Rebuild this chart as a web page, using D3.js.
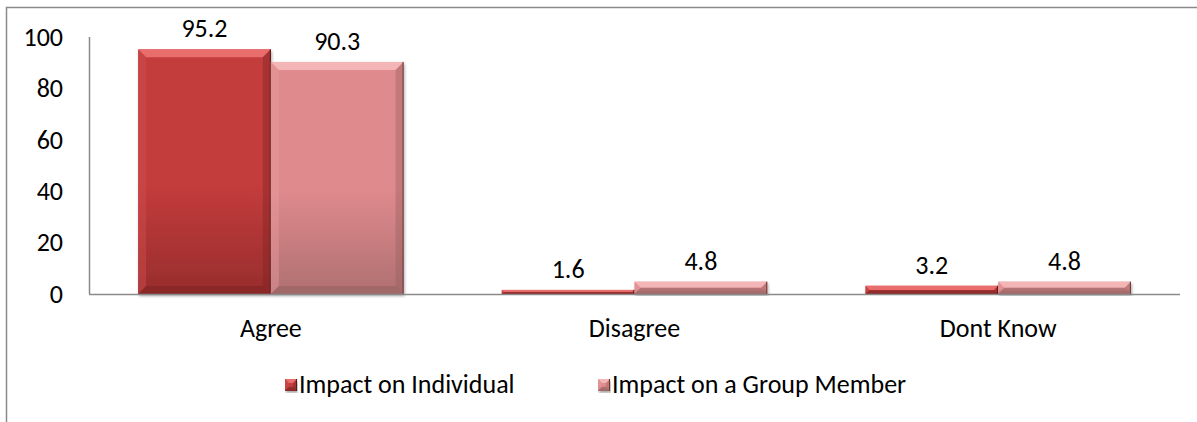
<!DOCTYPE html>
<html>
<head>
<meta charset="utf-8">
<script src="https://cdn.jsdelivr.net/npm/d3@7"></script>
<style>
  html, body { margin: 0; padding: 0; background: #fff; }
  svg { display: block; }
  text { font-family: Carlito, Calibri, Lato, "Open Sans", sans-serif; fill: #000; }
</style>
</head>
<body>
<svg id="chart" width="1197" height="422"></svg>
<script>
// Survey responses, percent
const categories = ["Agree", "Disagree", "Dont Know"];
const seriesNames = ["Impact on Individual", "Impact on a Group Member"];
const individualValues = [95.2, 1.6, 3.2];
const groupMemberValues = [90.3, 4.8, 4.8];
const yTicks = [0, 20, 40, 60, 80, 100];

const seriesValues = [individualValues, groupMemberValues];

// Face / bevel colours for each series
const palette = [
  { top: "#c43c3c", bottom: "#982d2d", light: "#ee7272", side: "#d04e4e", dark: "#7d2222", edge: "#5b1717" },
  { top: "#df8a8d", bottom: "#b07070", light: "#f6b9bb", side: "#e89c9e", dark: "#946060", edge: "#6a3a3a" }
];

const svg = d3.select("#chart");
const W = 1197, H = 422;
const plot = { left: 89, right: 1180, top: 37, bottom: 294 };
const fontSize = 26;

// Outer chart frame (left and top edges visible)
svg.append("path")
  .attr("d", `M6.5,${H} L6.5,7.5 L${W},7.5`)
  .attr("fill", "none").attr("stroke", "#8a8a8a").attr("stroke-width", 1.5);

const defs = svg.append("defs");
palette.forEach((c, i) => {
  const g = defs.append("linearGradient").attr("id", "face" + i)
    .attr("x1", 0).attr("y1", 0).attr("x2", 0).attr("y2", 1);
  g.append("stop").attr("offset", "0%").attr("stop-color", c.top);
  g.append("stop").attr("offset", "55%").attr("stop-color", c.top);
  g.append("stop").attr("offset", "100%").attr("stop-color", c.bottom);
});
const shadow = defs.append("filter").attr("id", "shadow")
  .attr("x", "-5%").attr("y", "-5%").attr("width", "110%").attr("height", "115%");
shadow.append("feGaussianBlur").attr("in", "SourceAlpha").attr("stdDeviation", 1.5).attr("result", "b");
shadow.append("feOffset").attr("in", "b").attr("dx", 1).attr("dy", 1.5).attr("result", "o");
shadow.append("feComponentTransfer").attr("in", "o").attr("result", "s")
  .append("feFuncA").attr("type", "linear").attr("slope", 0.35);
const merge = shadow.append("feMerge");
merge.append("feMergeNode").attr("in", "s");
merge.append("feMergeNode").attr("in", "SourceGraphic");

const x0 = d3.scaleBand().domain(categories)
  .range([plot.left, plot.right]).paddingInner(0.27).paddingOuter(0.135);
const x1 = d3.scaleBand().domain(seriesNames).range([0, x0.bandwidth()]);
const y = d3.scaleLinear().domain([0, 100]).range([plot.bottom, plot.top]);

// Y axis: line and labels, no tick marks
const yAxis = svg.append("g").attr("transform", `translate(${plot.left},0)`)
  .call(d3.axisLeft(y).tickValues(yTicks).tickSize(0).tickPadding(26).tickFormat(d3.format("d")));
yAxis.select(".domain").attr("stroke", "#8a8a8a").attr("stroke-width", 1.5)
  .attr("d", `M0.5,${plot.bottom}V${plot.top}`);
yAxis.selectAll("text").attr("font-size", fontSize)
  .style("font-family", "Carlito, Calibri, Lato, 'Open Sans', sans-serif").attr("fill", "#000");

// Bars with bevelled edges
function bevelBar(g, x, yTop, w, h, c, idx, bev) {
  const b = Math.min(bev || 8, h / 2);
  const x2 = x + w, y2 = yTop + h;
  g.append("rect").attr("x", x).attr("y", yTop).attr("width", w).attr("height", h)
    .attr("fill", `url(#face${idx})`).attr("filter", "url(#shadow)");
  const poly = (pts, fill, op) => g.append("polygon")
    .attr("points", pts.map(p => p.join(",")).join(" "))
    .attr("fill", fill).attr("opacity", op);
  poly([[x, yTop], [x2, yTop], [x2 - b, yTop + b], [x + b, yTop + b]], c.light, 0.9);
  poly([[x, yTop], [x + b, yTop + b], [x + b, y2 - b], [x, y2]], c.side, 0.45);
  poly([[x2, yTop], [x2, y2], [x2 - b, y2 - b], [x2 - b, yTop + b]], c.dark, 0.4);
  poly([[x, y2], [x + b, y2 - b], [x2 - b, y2 - b], [x2, y2]], c.dark, 0.55);
  g.append("line").attr("x1", x2 - 0.5).attr("x2", x2 - 0.5).attr("y1", yTop).attr("y2", y2)
    .attr("stroke", c.edge).attr("stroke-width", 1);
}

const groups = svg.append("g").selectAll("g").data(categories).join("g")
  .attr("transform", d => `translate(${x0(d)},0)`);

groups.each(function (cat, ci) {
  const g = d3.select(this);
  seriesNames.forEach((s, si) => {
    const v = seriesValues[si][ci];
    const bx = x1(s), bw = x1.bandwidth();
    const top = y(v), h = y(0) - y(v);
    bevelBar(g.append("g"), bx, top, bw, h, palette[si], si);
    g.append("text").attr("x", bx + bw / 2).attr("y", top - 12)
      .attr("text-anchor", "middle").attr("font-size", fontSize).text(v.toFixed(1));
  });
});

// X axis baseline and category labels
svg.append("line").attr("x1", plot.left).attr("x2", plot.right)
  .attr("y1", plot.bottom + 0.5).attr("y2", plot.bottom + 0.5)
  .attr("stroke", "#8a8a8a").attr("stroke-width", 1.5);
svg.append("g").selectAll("text").data(categories).join("text")
  .attr("x", d => x0(d) + x0.bandwidth() / 2).attr("y", plot.bottom + 43)
  .attr("text-anchor", "middle").attr("font-size", fontSize).text(d => d);

// Legend: each entry is a bevelled swatch followed by its series name
const legendX = [285, 598];
const legend = svg.append("g").attr("transform", "translate(0,385)");
legend.selectAll("g").data(seriesNames).join("g")
  .attr("transform", (d, i) => `translate(${legendX[i]},0)`)
  .each(function (s, i) {
    const g = d3.select(this);
    bevelBar(g, 0, -6, 12, 12, palette[i], i, 4);
    g.append("text").attr("x", 14).attr("y", 8).attr("font-size", fontSize).text(s);
  });
</script>
</body>
</html>
